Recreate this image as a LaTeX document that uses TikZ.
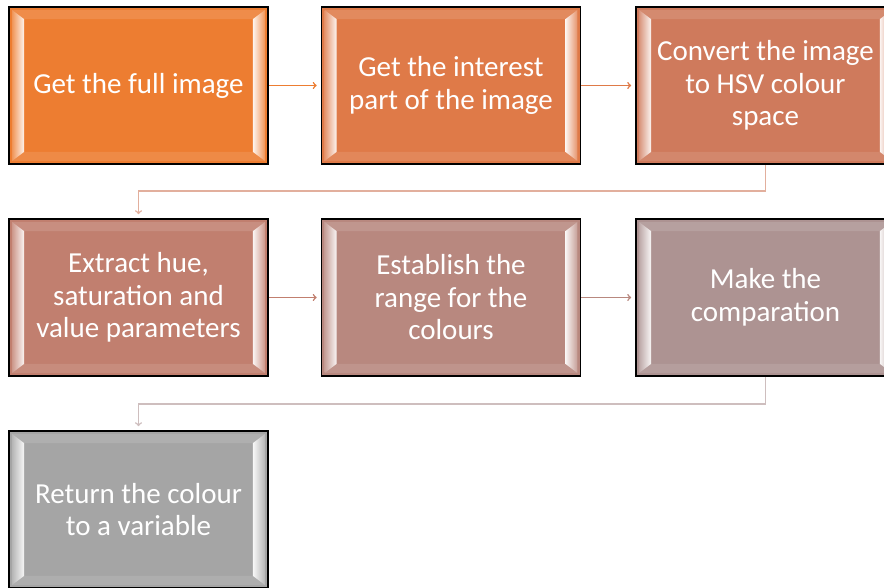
\documentclass[tikz,border=0pt]{standalone}
\usepackage{fontspec}
\setmainfont{Carlito}
\definecolor{stepA}{RGB}{237,125,49}
\definecolor{stepB}{RGB}{223,122,72}
\definecolor{stepC}{RGB}{207,122,92}
\definecolor{stepD}{RGB}{193,127,111}
\definecolor{stepE}{RGB}{184,136,127}
\definecolor{stepF}{RGB}{173,147,146}
\definecolor{stepG}{RGB}{165,165,165}
\begin{document}
\begin{tikzpicture}[x=1pt, y=1pt,
        stepbox/.style={rectangle, draw=black, line width=1.6pt, fill=#1, minimum width=259pt, minimum height=157pt, inner sep=0pt, align=center, text=white, font=\fontsize{29}{32.5}\selectfont},
        link/.style={draw=#1, line width=1.5pt, ->, shorten >=4pt}
    ]
        \useasboundingbox (0,0) rectangle (884,-588);

        \node[stepbox=stepA] (full) at (138.5,-85.5) {Get the full image};
        \node[stepbox=stepB] (part) at (451,-85.5) {Get the interest\\part of the image};
        \node[stepbox=stepC] (hsv) at (765.5,-85.5) {Convert the image\\to HSV colour\\space};
        \node[stepbox=stepD] (hue) at (138.5,-297.5) {Extract hue,\\saturation and\\value parameters};
        \node[stepbox=stepE] (range) at (451,-297.5) {Establish the\\range for the\\colours};
        \node[stepbox=stepF] (comp) at (765.5,-297.5) {Make the\\comparation};
        \node[stepbox=stepG] (ret) at (138.5,-509.5) {Return the colour\\to a variable};

        % bevel on every box
        \foreach \n/\c in {full/stepA, part/stepB, hsv/stepC, hue/stepD, range/stepE, comp/stepF, ret/stepG} {
            \shade[left color=\c!80!white, right color=white!92!\c]
                ([shift={(4,-4)}]\n.north west) -- ([shift={(16,-13)}]\n.north west)
                -- ([shift={(16,13)}]\n.south west) -- ([shift={(4,4)}]\n.south west) -- cycle;
            \shade[left color=white!92!\c, right color=\c!80!white]
                ([shift={(-16,-13)}]\n.north east) -- ([shift={(-4,-4)}]\n.north east)
                -- ([shift={(-4,4)}]\n.south east) -- ([shift={(-16,13)}]\n.south east) -- cycle;
            \fill[white, opacity=.12]
                ([shift={(4,-4)}]\n.north west) -- ([shift={(-4,-4)}]\n.north east)
                -- ([shift={(-16,-13)}]\n.north east) -- ([shift={(16,-13)}]\n.north west) -- cycle;
            \fill[white, opacity=.1]
                ([shift={(4,4)}]\n.south west) -- ([shift={(-4,4)}]\n.south east)
                -- ([shift={(-16,13)}]\n.south east) -- ([shift={(16,13)}]\n.south west) -- cycle;
        }

        \draw[link=stepA] (full) -- (part);
        \draw[link=stepB] (part) -- (hsv);
        \draw[link=stepC!60!white] (hsv.south) -- ++(0,-26) -| (hue.north);
        \draw[link=stepD] (hue) -- (range);
        \draw[link=stepE] (range) -- (comp);
        \draw[link=stepF!60!white] (comp.south) -- ++(0,-27) -| (ret.north);
    \end{tikzpicture}
\end{document}
